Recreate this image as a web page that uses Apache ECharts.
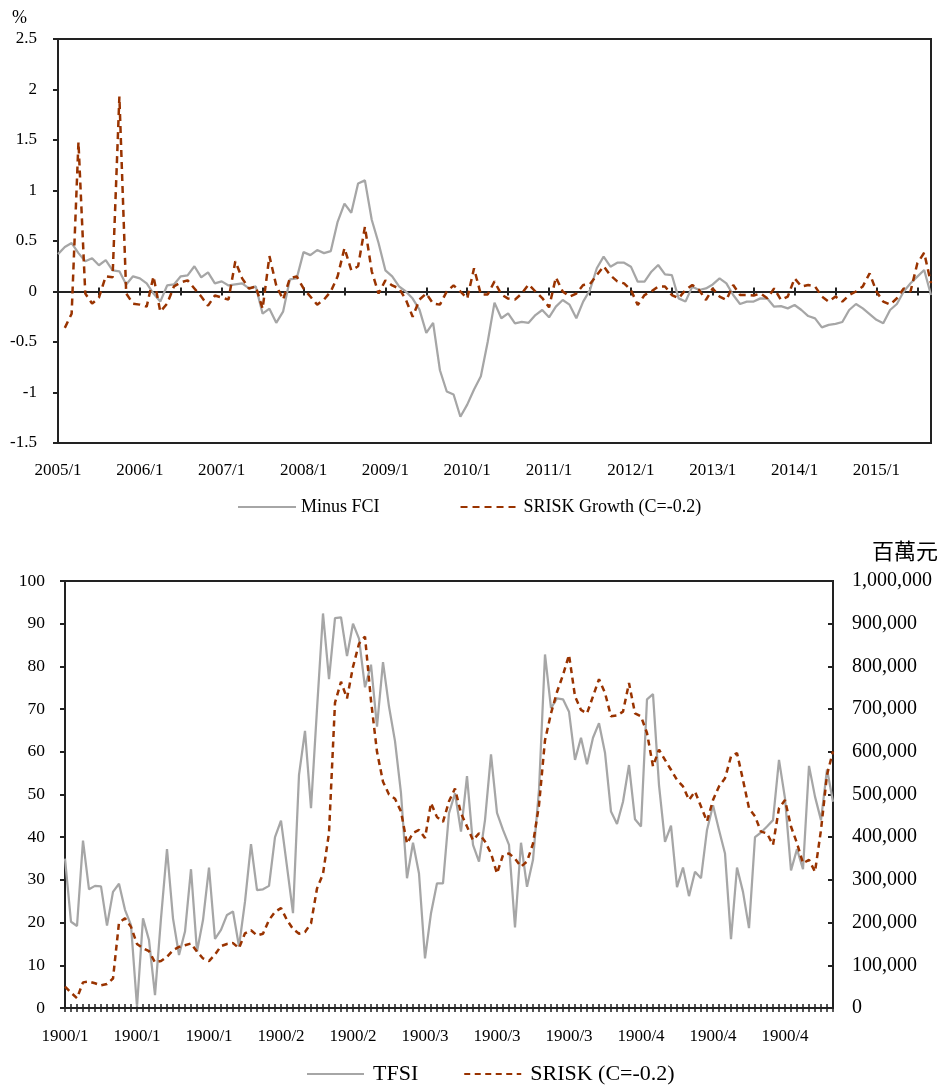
<!DOCTYPE html>
<html>
<head>
<meta charset="utf-8">
<script src="https://cdn.jsdelivr.net/npm/echarts@6/dist/echarts.min.js"></script>
<style>
  html, body { margin: 0; padding: 0; background: #fff; }
  #chart { width: 942px; height: 1087px; }
</style>
</head>
<body>
<div id="chart"></div>
<script>
// Monthly categories, 2005/1 through 2015/9
const START_YEAR = 2005;
const N_MONTHS = 129;
const months = [];
for (let k = 0; k < N_MONTHS; k++) {
  months.push((START_YEAR + Math.floor(k / 12)) + '/' + (k % 12 + 1));
}

// Tick labels shown under each panel (one every 12 months)
const topTickLabels = ['2005/1', '2006/1', '2007/1', '2008/1', '2009/1', '2010/1',
  '2011/1', '2012/1', '2013/1', '2014/1', '2015/1'];
const bottomTickLabels = ['1900/1', '1900/1', '1900/1', '1900/2', '1900/2', '1900/3',
  '1900/3', '1900/3', '1900/4', '1900/4', '1900/4'];

// Upper panel (%)
const minusFCI = [
  0.37, 0.44, 0.48, 0.38, 0.30, 0.33, 0.26, 0.31, 0.21, 0.20,
  0.07, 0.15, 0.13, 0.08, -0.02, -0.10, 0.06, 0.07, 0.15, 0.16,
  0.25, 0.14, 0.19, 0.08, 0.10, 0.06, 0.07, 0.08, 0.03, 0.05,
  -0.22, -0.17, -0.31, -0.20, 0.12, 0.13, 0.39, 0.36, 0.41, 0.38,
  0.40, 0.69, 0.87, 0.78, 1.07, 1.10, 0.71, 0.48, 0.21, 0.15,
  0.05, 0.00, -0.07, -0.18, -0.41, -0.31, -0.78, -0.99, -1.02, -1.24,
  -1.12, -0.97, -0.84, -0.50, -0.11, -0.265, -0.216, -0.315, -0.30, -0.31,
  -0.233, -0.183, -0.256, -0.15, -0.084, -0.13, -0.265, -0.10, 0.015, 0.23,
  0.345, 0.246, 0.285, 0.285, 0.246, 0.097, 0.097, 0.196, 0.262, 0.17,
  0.163, -0.068, -0.10, 0.048, 0.015, 0.03, 0.07, 0.13, 0.08, -0.035,
  -0.124, -0.10, -0.10, -0.068, -0.07, -0.15, -0.145, -0.167, -0.134, -0.183,
  -0.243, -0.266, -0.355, -0.33, -0.32, -0.302, -0.183, -0.124, -0.167, -0.223,
  -0.28, -0.315, -0.183, -0.124, 0.0, 0.081, 0.147, 0.213, -0.035
];
const sriskGrowth = [
  null, -0.36, -0.22, 1.48, -0.02, -0.12, -0.06, 0.15, 0.14, 1.93,
  -0.02, -0.12, -0.13, -0.15, 0.15, -0.20, -0.12, 0.05, 0.09, 0.11,
  0.03, -0.05, -0.14, -0.04, -0.06, -0.08, 0.30, 0.13, 0.03, 0.05,
  -0.17, 0.35, 0.06, -0.08, 0.13, 0.15, 0.03, -0.05, -0.13, -0.08,
  0.00, 0.15, 0.43, 0.21, 0.25, 0.64, 0.20, -0.02, 0.11, 0.06,
  0.03, -0.08, -0.25, -0.08, -0.02, -0.12, -0.13, 0.00, 0.06, 0.00,
  -0.07, 0.23, -0.03, -0.03, 0.10, -0.03, -0.07, -0.08, -0.02, 0.07,
  0.00, -0.065, -0.157, 0.14, 0.00, -0.05, -0.02, 0.064, 0.074, 0.163,
  0.25, 0.16, 0.10, 0.08, 0.015, -0.134, -0.035, 0.00, 0.05, 0.05,
  -0.035, -0.067, 0.015, 0.064, 0.015, -0.084, 0.03, -0.05, -0.084, 0.064,
  -0.035, -0.035, -0.04, -0.02, -0.067, 0.031, -0.084, -0.05, 0.13, 0.05,
  0.064, 0.05, -0.05, -0.10, -0.05, -0.10, -0.035, 0.00, 0.05, 0.18,
  0.00, -0.10, -0.13, -0.067, 0.03, 0.00, 0.28, 0.384, 0.081
];

// Lower panel: TFSI (left axis) and SRISK in millions (right axis)
const tfsi = [
  35.0, 20.2, 19.2, 39.2, 27.8, 28.6, 28.5, 19.3, 27.2, 29.1,
  23.0, 19.4, 0.3, 21.0, 15.9, 3.0, 21.0, 37.2, 21.0, 12.4,
  17.9, 32.5, 13.2, 20.6, 32.9, 16.2, 18.3, 21.8, 22.6, 14.4,
  24.9, 38.4, 27.6, 27.8, 28.6, 40.0, 43.9, 33.1, 22.2, 54.6,
  64.9, 46.8, 70.0, 92.4, 77.0, 91.3, 91.5, 82.4, 90.0, 86.5,
  75.1, 80.4, 65.9, 81.0, 70.6, 62.5, 50.3, 30.4, 38.7, 31.5,
  11.6, 22.2, 29.2, 29.2, 45.6, 50.3, 41.3, 54.3, 38.2, 34.3,
  44.0, 59.4, 45.7, 41.7, 38.2, 18.9, 38.7, 28.4, 34.7, 51.1,
  82.8, 70.2, 72.5, 72.3, 69.4, 58.1, 63.3, 57.1, 63.3, 66.7,
  59.8, 46.0, 43.1, 48.3, 56.9, 44.2, 42.5, 72.3, 73.5, 52.2,
  38.9, 42.7, 28.3, 32.9, 26.2, 31.9, 30.4, 41.7, 47.5, 41.7,
  36.2, 16.1, 32.9, 27.2, 18.7, 40.0, 41.1, 42.5, 44.0, 58.1,
  49.1, 32.2, 37.2, 32.5, 56.7, 49.5, 44.0, 55.9, 48.3
];
const srisk = [
  50000, 36000, 23000, 60000, 62000, 58000, 53000, 56000, 69000, 200000,
  210000, 190000, 150000, 140000, 133000, 107000, 110000, 120000, 135000, 143000,
  147000, 151000, 132000, 116000, 110000, 125000, 145000, 150000, 152000, 140000,
  175000, 182000, 170000, 174000, 206000, 225000, 234000, 206000, 185000, 174000,
  178000, 198000, 280000, 314000, 410000, 715000, 764000, 725000, 799000, 853000,
  870000, 720000, 600000, 530000, 500000, 490000, 460000, 385000, 410000, 417000,
  398000, 480000, 447000, 436000, 484000, 514000, 456000, 425000, 393000, 409000,
  390000, 362000, 315000, 358000, 362000, 350000, 331000, 343000, 385000, 475000,
  627000, 690000, 740000, 780000, 827000, 730000, 698000, 690000, 730000, 770000,
  738000, 683000, 685000, 694000, 761000, 690000, 683000, 644000, 566000, 605000,
  581000, 558000, 534000, 519000, 487000, 507000, 472000, 437000, 487000, 519000,
  538000, 589000, 597000, 534000, 468000, 449000, 413000, 409000, 382000, 468000,
  487000, 425000, 386000, 339000, 347000, 319000, 417000, 546000, 601000
];

const SERIF = '"Liberation Serif", "Times New Roman", serif';
const INK = '#222';
const GRAY = '#A6A6A6';
const RUST = '#993300';

const withCommas = v => String(v).replace(/\B(?=(\d{3})+(?!\d))/g, ',');

const chart = echarts.init(document.getElementById('chart'), null, { renderer: 'canvas' });

chart.setOption({
  animation: false,
  backgroundColor: '#fff',
  textStyle: { fontFamily: SERIF, color: '#000' },
  grid: [
    { left: 58, right: 11, top: 39, height: 404, show: true, borderColor: INK, borderWidth: 2,
      containLabel: false, outerBoundsMode: 'none' },
    { left: 65, right: 109, top: 581, bottom: 79, show: true, borderColor: INK, borderWidth: 2,
      containLabel: false, outerBoundsMode: 'none' }
  ],
  xAxis: [
    // upper panel: zero line with downward ticks every 6 months
    { type: 'category', gridIndex: 0, data: months, boundaryGap: false, position: 'bottom',
      axisLine: { show: true, onZero: true, onZeroAxisIndex: 0, lineStyle: { color: INK, width: 2 } },
      axisTick: { show: true, interval: 5, length: 4, lineStyle: { color: INK, width: 2 } },
      axisLabel: { show: false }, splitLine: { show: false } },
    // upper panel: upward half of the zero-line ticks
    { type: 'category', gridIndex: 0, data: months, boundaryGap: false, position: 'bottom',
      axisLine: { show: false, onZero: true, onZeroAxisIndex: 0 },
      axisTick: { show: true, inside: true, interval: 5, length: 4, lineStyle: { color: INK, width: 2 } },
      axisLabel: { show: false }, splitLine: { show: false } },
    // upper panel: date labels along the bottom edge
    { type: 'category', gridIndex: 0, data: months, boundaryGap: false, position: 'bottom',
      axisLine: { show: false, onZero: false }, axisTick: { show: false },
      axisLabel: { show: true, interval: 11, margin: 19, fontSize: 17, fontFamily: SERIF, color: '#000',
        formatter: (v, i) => topTickLabels[Math.round(i / 12)] },
      splitLine: { show: false } },
    // lower panel: monthly ticks with labels
    { type: 'category', gridIndex: 1, data: months, boundaryGap: false, position: 'bottom',
      axisLine: { show: true, onZero: false, lineStyle: { color: INK, width: 2 } },
      axisTick: { show: true, interval: 0, length: 4, lineStyle: { color: INK, width: 1.5 } },
      axisLabel: { show: true, interval: 11, margin: 20, fontSize: 17, fontFamily: SERIF, color: '#000',
        formatter: (v, i) => bottomTickLabels[Math.round(i / 12)] },
      splitLine: { show: false } },
    // lower panel: inner half of the monthly ticks
    { type: 'category', gridIndex: 1, data: months, boundaryGap: false, position: 'bottom',
      axisLine: { show: false, onZero: false },
      axisTick: { show: true, inside: true, interval: 0, length: 4, lineStyle: { color: INK, width: 1.5 } },
      axisLabel: { show: false }, splitLine: { show: false } }
  ],
  yAxis: [
    { type: 'value', gridIndex: 0, min: -1.5, max: 2.5, interval: 0.5,
      name: '%', nameLocation: 'end', nameGap: 12,
      nameTextStyle: { fontSize: 18, fontFamily: SERIF, color: '#000', align: 'right', padding: [0, 31, 0, 0] },
      axisLine: { show: true, onZero: false, lineStyle: { color: INK, width: 2 } },
      axisTick: { show: true, length: 5, lineStyle: { color: INK, width: 2 } },
      axisLabel: { margin: 21, fontSize: 17, fontFamily: SERIF, color: '#000' },
      splitLine: { show: false } },
    { type: 'value', gridIndex: 1, position: 'left', min: 0, max: 100, interval: 10,
      axisLine: { show: true, onZero: false, lineStyle: { color: INK, width: 2 } },
      axisTick: { show: true, length: 5, lineStyle: { color: INK, width: 2 } },
      axisLabel: { margin: 20, fontSize: 17.5, fontFamily: SERIF, color: '#000' },
      splitLine: { show: false } },
    { type: 'value', gridIndex: 1, position: 'right', min: 0, max: 1000000, interval: 100000,
      name: '百萬元', nameLocation: 'end', nameGap: 19,
      nameTextStyle: { fontSize: 22, fontFamily: '"Noto Sans CJK TC", sans-serif', color: '#000',
        align: 'left', padding: [0, 0, 0, 39] },
      axisLine: { show: true, onZero: false, lineStyle: { color: INK, width: 2 } },
      axisTick: { show: true, inside: true, length: 5, lineStyle: { color: INK, width: 2 } },
      axisLabel: { margin: 19, fontSize: 20, fontFamily: SERIF, color: '#000', formatter: withCommas },
      splitLine: { show: false } }
  ],
  legend: [
    { data: ['Minus FCI', 'SRISK Growth (C=-0.2)'], left: 232, top: 493,
      itemWidth: 58, itemHeight: 14, itemGap: 80, itemStyle: { opacity: 0 },
      textStyle: { fontSize: 18, fontFamily: SERIF, color: '#000' } },
    { data: ['TFSI', 'SRISK (C=-0.2)'], left: 301, top: 1058,
      itemWidth: 57, itemHeight: 14, itemGap: 45, itemStyle: { opacity: 0 },
      textStyle: { fontSize: 22, fontFamily: SERIF, color: '#000', padding: [0, 0, 0, 4] } }
  ],
  series: [
    { name: 'Minus FCI', type: 'line', xAxisIndex: 0, yAxisIndex: 0, data: minusFCI,
      symbol: 'none', color: GRAY, lineStyle: { color: GRAY, width: 2.25 }, z: 3 },
    { name: 'SRISK Growth (C=-0.2)', type: 'line', xAxisIndex: 0, yAxisIndex: 0, data: sriskGrowth,
      symbol: 'none', color: RUST, lineStyle: { color: RUST, width: 2.5, type: [7, 5] }, z: 4 },
    { name: 'TFSI', type: 'line', xAxisIndex: 3, yAxisIndex: 1, data: tfsi,
      symbol: 'none', color: GRAY, lineStyle: { color: GRAY, width: 2.25 }, z: 3 },
    { name: 'SRISK (C=-0.2)', type: 'line', xAxisIndex: 3, yAxisIndex: 2, data: srisk,
      symbol: 'none', color: RUST, lineStyle: { color: RUST, width: 2.5, type: [6, 4.5] }, z: 4 }
  ]
});
</script>
</body>
</html>
